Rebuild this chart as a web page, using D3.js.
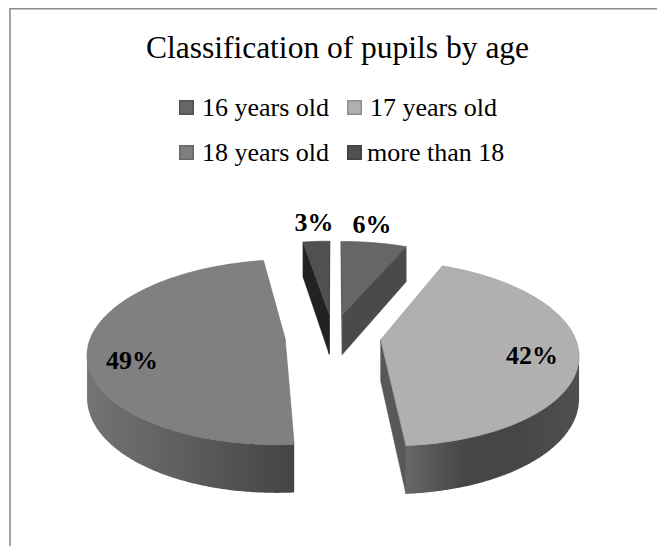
<!DOCTYPE html>
<html><head><meta charset="utf-8">
<script src="https://cdn.jsdelivr.net/npm/d3@7"></script>
<style>html,body{margin:0;padding:0;background:#fff}svg{display:block}text{font-family:"Liberation Serif","Times New Roman",serif;fill:#000}</style>
</head><body><div id="c"></div>
<script>
const title = "Classification of pupils by age";
const categories = ["16 years old","17 years old","18 years old","more than 18"];
const values = [6.4, 42.4, 48.6, 2.6];
const topColors = ["#666666","#b0b0b0","#808080","#505050"];
const cutColors = ["#4a4a4a","#585858","#444444","#222222"];
const wallStops = [["#555555","#4a4a4a"],["#686868","#464646","#464646","#505050"],["#747474","#5c5c5c","#444444"],["#333333","#222222"]];

const W=657,H=546;
const svg=d3.select("#c").append("svg").attr("width",W).attr("height",H);
svg.append("rect").attr("width",W).attr("height",H).attr("fill","#fff");
svg.append("path").attr("d","M10,546V8.7H657").attr("fill","none").attr("stroke","#8c8c8c").attr("stroke-width",1.6);

svg.append("text").attr("x",337.5).attr("y",58).attr("text-anchor","middle").attr("font-size",31.5).text(title);

const legendX=d3.scaleOrdinal().domain([0,1]).range([179,347]);
const legendY=d3.scaleOrdinal().domain([0,1]).range([100,145]);
categories.forEach((c,i)=>{
  const col=i%2,row=Math.floor(i/2);
  svg.append("rect").attr("x",legendX(col)+.75).attr("y",legendY(row)+.75).attr("width",13.5).attr("height",13.5)
    .attr("fill",topColors[i]).attr("stroke",d3.color(topColors[i]).darker(.6)).attr("stroke-width",1.5);
  svg.append("text").attr("x",legendX(col)+(i===3?20:23)).attr("y",legendY(row)+16).attr("font-size",26).text(c);
});

// 3D projection of the exploded pie
const cx=333,cy=336,R=194,squash=.463,persp=.145,explode=48,depth=41;
const project=(X,Z,h)=>{const s=1/(1+persp*Z/R);return [cx+X*s,cy-Z*squash*s+h*s];};
const pie=d3.pie().sort(null).value(d=>d)(values);
const pt=(d,a,r)=>{const m=(d.startAngle+d.endAngle)/2;
  return [explode*Math.sin(m)+r*Math.sin(a),explode*Math.cos(m)+r*Math.cos(a)];};
const line=d3.line();
const area2=p=>(p[1][0]-p[0][0])*(p[2][1]-p[0][1])-(p[1][1]-p[0][1])*(p[2][0]-p[0][0]);
const defs=svg.append("defs");

const order=[3,0,2,1];
order.forEach(i=>{
  const d=pie[i],g=svg.append("g");
  const steps=d3.range(0,Math.ceil((d.endAngle-d.startAngle)/.01)+1);
  const ang=d3.scaleLinear().domain([0,steps.length-1]).range([d.startAngle,d.endAngle]);
  const top=steps.map(k=>project(...pt(d,ang(k),R),0));
  const bottom=steps.map(k=>project(...pt(d,ang(k),R),depth));
  const apexT=project(...pt(d,0,0),0),apexB=project(...pt(d,0,0),depth);
  // cut faces
  [[apexT,top[0],bottom[0],apexB],[top[top.length-1],apexT,apexB,bottom[bottom.length-1]]].forEach(q=>{
    if(area2(q)<0) g.append("path").attr("d",line(q)+"Z").attr("fill",cutColors[i]).attr("stroke",cutColors[i]).attr("stroke-width",.5);
  });
  // outer wall: one path over the front-facing part of the rim, shaded by a horizontal gradient
  const ext=d3.extent(top,p=>p[0]);
  const grad=defs.append("linearGradient").attr("id","wall"+i).attr("gradientUnits","userSpaceOnUse")
    .attr("x1",ext[0]).attr("x2",ext[1]).attr("y1",0).attr("y2",0);
  wallStops[i].forEach((c,j)=>grad.append("stop").attr("offset",j/(wallStops[i].length-1)).attr("stop-color",c));
  const front=d3.range(0,top.length-1).filter(k=>area2([top[k],top[k+1],bottom[k+1],bottom[k]])<0);
  if(front.length){
    const idx=[...front,front[front.length-1]+1];
    const poly=[...idx.map(k=>top[k]),...idx.slice().reverse().map(k=>bottom[k])];
    g.append("path").attr("d",line(poly)+"Z").attr("fill","url(#wall"+i+")");
  }
  // top face
  g.append("path").attr("d",line([apexT,...top])+"Z").attr("fill",topColors[i]).attr("stroke",d3.color(topColors[i]).darker(.5)).attr("stroke-width",.6);
});

// data labels
const labelAnchor=[[372,233],[532,364],[132,369],[314,231]];
pie.forEach((d,i)=>{
  svg.append("text").attr("x",labelAnchor[i][0]).attr("y",labelAnchor[i][1]).attr("text-anchor","middle")
   .attr("font-size",26).attr("font-weight","bold").text(Math.round(values[i])+"%");
});
</script></body></html>
